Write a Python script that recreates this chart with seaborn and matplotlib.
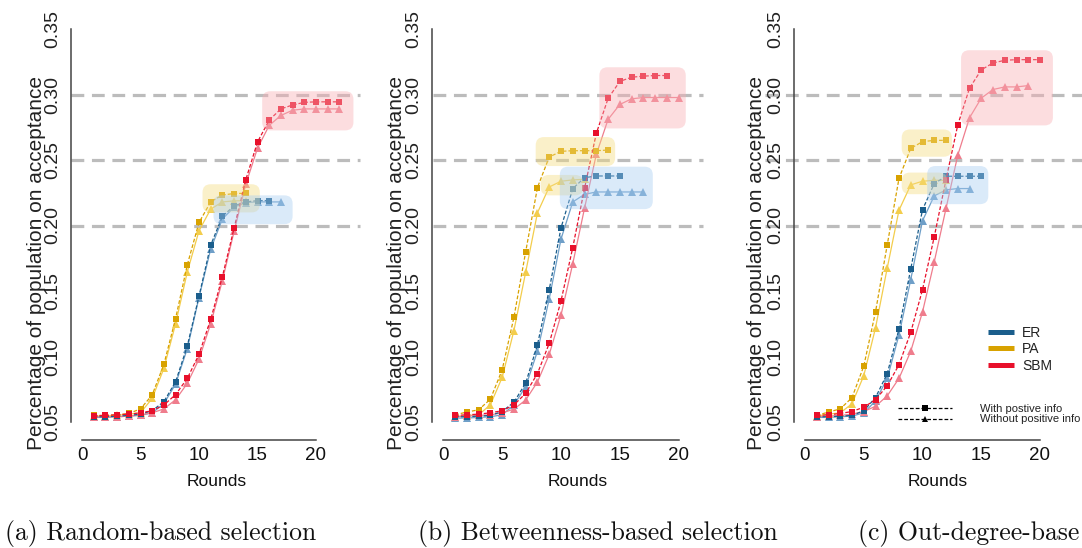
import numpy as np
import pandas as pd
import seaborn as sns
import matplotlib
matplotlib.use("Agg")
import matplotlib.pyplot as plt
from matplotlib.patches import FancyBboxPatch
from matplotlib.lines import Line2D
from matplotlib import font_manager
from matplotlib.font_manager import FontProperties

# ---------------- data ----------------
panel_titles = ["(a) Random-based selection",
                "(b) Betweenness-based selection",
                "(c) Out-degree-base"]
networks = ["ER", "PA", "SBM"]
info_labels = ["With postive info", "Without positive info"]
ylabel_text = "Percentage of population on acceptance"
xlabel_text = "Rounds"
yticks = [0.05, 0.10, 0.15, 0.20, 0.25, 0.30, 0.35]
xticks = [0, 5, 10, 15, 20]
ref_levels = [0.20, 0.25, 0.30]

# panel (a) random-based
er_with_a = [0.0540, 0.0540, 0.0545, 0.0550, 0.0560, 0.0586, 0.0656, 0.0807, 0.1080, 0.1460,
             0.1850, 0.2070, 0.2150, 0.2180, 0.2190, 0.2190]
er_without_a = [0.0535, 0.0535, 0.0540, 0.0545, 0.0550, 0.0570, 0.0640, 0.0790, 0.1060, 0.1450,
                0.1820, 0.2050, 0.2140, 0.2175, 0.2180, 0.2180, 0.2180]
pa_with_a = [0.0550, 0.0550, 0.0555, 0.0565, 0.0600, 0.0707, 0.0940, 0.1290, 0.1700, 0.2023,
             0.2180, 0.2233, 0.2244, 0.2246]
pa_without_a = [0.0545, 0.0545, 0.0550, 0.0560, 0.0570, 0.0680, 0.0910, 0.1250, 0.1645, 0.1960,
                0.2125, 0.2180, 0.2188, 0.2190]
sbm_with_a = [0.0548, 0.0550, 0.0555, 0.0560, 0.0570, 0.0586, 0.0630, 0.0709, 0.0833, 0.1016,
              0.1283, 0.1610, 0.1980, 0.2350, 0.2637, 0.2805, 0.2890, 0.2920, 0.2940, 0.2944,
              0.2944, 0.2944]
sbm_without_a = [0.0540, 0.0540, 0.0540, 0.0545, 0.0555, 0.0570, 0.0600, 0.0670, 0.0795, 0.0980,
                 0.1250, 0.1580, 0.1955, 0.2315, 0.2590, 0.2764, 0.2840, 0.2880, 0.2890, 0.2890,
                 0.2890, 0.2890]

# panel (b) betweenness-based
er_with_b = [0.0540, 0.0540, 0.0545, 0.0550, 0.0580, 0.0651, 0.0797, 0.1090, 0.1510, 0.1982,
             0.2282, 0.2365, 0.2378, 0.2378, 0.2378]
er_without_b = [0.0530, 0.0530, 0.0535, 0.0540, 0.0555, 0.0630, 0.0770, 0.1040, 0.1440, 0.1896,
                0.2180, 0.2238, 0.2256, 0.2256, 0.2256, 0.2256, 0.2256]
pa_with_b = [0.0555, 0.0576, 0.0593, 0.0674, 0.0898, 0.1299, 0.1800, 0.2290, 0.2523, 0.2566,
             0.2571, 0.2571, 0.2571, 0.2576]
pa_without_b = [0.0540, 0.0550, 0.0555, 0.0631, 0.0840, 0.1198, 0.1644, 0.2097, 0.2294, 0.2338,
                0.2348, 0.2353]
sbm_with_b = [0.0550, 0.0555, 0.0560, 0.0570, 0.0586, 0.0630, 0.0719, 0.0870, 0.1100, 0.1424,
              0.1832, 0.2284, 0.2703, 0.2970, 0.3100, 0.3132, 0.3140, 0.3145, 0.3145]
sbm_without_b = [0.0540, 0.0545, 0.0550, 0.0555, 0.0570, 0.0598, 0.0668, 0.0806, 0.1016, 0.1316,
                 0.1709, 0.2132, 0.2543, 0.2810, 0.2924, 0.2967, 0.2977, 0.2977, 0.2977, 0.2977]

# panel (c) out-degree-based
er_with_c = [0.0540, 0.0540, 0.0545, 0.0550, 0.0586, 0.0686, 0.0870, 0.1210, 0.1669, 0.2120,
             0.2320, 0.2376, 0.2376, 0.2376, 0.2376]
er_without_c = [0.0535, 0.0535, 0.0540, 0.0545, 0.0570, 0.0660, 0.0833, 0.1165, 0.1587, 0.2036,
                0.2226, 0.2272, 0.2282, 0.2282]
pa_with_c = [0.0550, 0.0576, 0.0600, 0.0686, 0.0926, 0.1340, 0.1853, 0.2360, 0.2589, 0.2640,
             0.2650, 0.2650]
pa_without_c = [0.0545, 0.0560, 0.0570, 0.0639, 0.0853, 0.1218, 0.1676, 0.2117, 0.2310, 0.2338,
                0.2345, 0.2345]
sbm_with_c = [0.0550, 0.0555, 0.0565, 0.0580, 0.0613, 0.0670, 0.0777, 0.0937, 0.1185, 0.1510,
              0.1914, 0.2350, 0.2767, 0.3048, 0.3188, 0.3241, 0.3261, 0.3266, 0.3266, 0.3266]
sbm_without_c = [0.0540, 0.0545, 0.0550, 0.0560, 0.0580, 0.0620, 0.0700, 0.0833, 0.1040, 0.1340,
                 0.1723, 0.2130, 0.2536, 0.2822, 0.2972, 0.3038, 0.3058, 0.3058, 0.3068]

# highlight boxes: (network, x0, x1, y0, y1)
boxes_a = [("SBM", 15.4, 23.2, 0.2726, 0.3025),
           ("PA", 10.3, 15.2, 0.2100, 0.2315),
           ("ER", 11.24, 18.0, 0.2010, 0.2230)]
boxes_b = [("SBM", 13.26, 20.6, 0.2741, 0.3208),
           ("PA", 7.85, 14.6, 0.2454, 0.2675),
           ("PA", 8.27, 11.9, 0.2230, 0.2386),
           ("ER", 9.9, 17.8, 0.2125, 0.2449)]
boxes_c = [("SBM", 13.28, 21.1, 0.2764, 0.3338),
           ("PA", 8.23, 12.5, 0.2525, 0.2733),
           ("PA", 8.23, 12.1, 0.2239, 0.2404),
           ("ER", 10.4, 15.6, 0.2163, 0.2454)]

# ---------------- styles ----------------
col_with = {"ER": "#1b5e8c", "PA": "#d8a200", "SBM": "#e8102b"}
col_without = {"ER": "#6f9fc8", "PA": "#f3cd4c", "SBM": "#ef7d8d"}
col_box = {"ER": "#a8cdf2", "PA": "#f5dc80", "SBM": "#f8b0b5"}

sns.set_style("white")
plt.rcParams["font.family"] = ["Liberation Sans", "DejaVu Sans"]


def pick_font(name, fallback):
    try:
        font_manager.findfont(FontProperties(family=name), fallback_to_default=False)
        return name
    except Exception:
        return fallback


NARROW = pick_font("Liberation Sans Narrow", "Liberation Sans")
SERIF = pick_font("cmr10", "DejaVu Serif")

W, H = 1082, 548
fig = plt.figure(figsize=(W / 100, H / 100), dpi=100)

# pixel layout (from top-left of image)
Y_TOP_PX, Y_BOT_PX = 20, 440
def yval(py):
    return 0.35 - (py - 29) * 0.05 / 65.5

panels_px = [
    dict(left=71, right=363, x0=82.0, ppu=11.70, ylab=36, xlab=217, ref=(71, 360), cap=5),
    dict(left=432, right=703, x0=443.3, ppu=11.77, ylab=397, xlab=578, ref=(433, 703), cap=418),
    dict(left=794, right=1082, x0=805.0, ppu=11.75, ylab=757, xlab=938, ref=(765, 1082), cap=858),
]

data_sets = [
    (er_with_a, er_without_a, pa_with_a, pa_without_a, sbm_with_a, sbm_without_a, boxes_a),
    (er_with_b, er_without_b, pa_with_b, pa_without_b, sbm_with_b, sbm_without_b, boxes_b),
    (er_with_c, er_without_c, pa_with_c, pa_without_c, sbm_with_c, sbm_without_c, boxes_c),
]

axes = []
for i, (p, ds) in enumerate(zip(panels_px, data_sets)):
    ax = fig.add_axes([p["left"] / W, (H - Y_BOT_PX) / H,
                       (p["right"] - p["left"]) / W, (Y_BOT_PX - Y_TOP_PX) / H])
    ax.set_facecolor("none")
    xl = ((p["left"] - p["x0"]) / p["ppu"], (p["right"] - p["x0"]) / p["ppu"])
    ax.set_xlim(*xl)
    ax.set_ylim(yval(Y_BOT_PX), yval(Y_TOP_PX))

    # reference dashed lines
    rx0 = (p["ref"][0] - p["x0"]) / p["ppu"]
    rx1 = (p["ref"][1] - p["x0"]) / p["ppu"]
    for lv in ref_levels:
        ax.plot([rx0, rx1], [lv, lv], color="#bcbcbc", lw=2.3,
                ls=(0, (4, 2.4)), zorder=0.5, clip_on=False, solid_capstyle="butt")

    series = {"ER": (ds[0], ds[1]), "PA": (ds[2], ds[3]), "SBM": (ds[4], ds[5])}
    for net in networks:
        w, wo = series[net]
        sns.lineplot(x=np.arange(1, len(wo) + 1), y=wo, ax=ax, color=col_without[net],
                     marker="^", markersize=5.2, markeredgewidth=0, linewidth=0.9,
                     linestyle="-", zorder=2, clip_on=False)
        sns.lineplot(x=np.arange(1, len(w) + 1), y=w, ax=ax, color=col_with[net],
                     marker="s", markersize=4.8, markeredgewidth=0, linewidth=0.9,
                     linestyle=(0, (3, 1.6)), zorder=3, clip_on=False)

    # highlight boxes
    xu_per_px = 1.0 / p["ppu"]
    yu_per_px = 0.05 / 65.5
    for net, bx0, bx1, by0, by1 in ds[6]:
        patch = FancyBboxPatch((bx0, by0), bx1 - bx0, by1 - by0,
                               boxstyle="round,pad=0,rounding_size=0.7",
                               mutation_aspect=yu_per_px / xu_per_px,
                               facecolor=col_box[net], edgecolor="none", alpha=0.42,
                               zorder=4, clip_on=False)
        ax.add_patch(patch)

    # axes styling (R-like detached axes)
    for s in ["top", "right"]:
        ax.spines[s].set_visible(False)
    ax.spines["left"].set_bounds(0.05, 0.35)
    ax.spines["bottom"].set_bounds(0, 20)
    for s in ["left", "bottom"]:
        ax.spines[s].set_color("#444444")
        ax.spines[s].set_linewidth(1.1)
    ax.set_yticks(yticks)
    ax.set_yticklabels([f"{v:.2f}" for v in yticks])
    ax.set_xticks(xticks)
    ax.set_xticklabels([str(v) for v in xticks])
    ax.tick_params(axis="y", length=3.5, width=1.0, color="#444444", pad=3.5,
                   labelsize=14, labelcolor="#222222")
    ax.tick_params(axis="x", length=3.8, width=1.0, color="#444444", pad=1.5,
                   labelsize=13.5, labelcolor="#111111")
    for lab in ax.get_yticklabels():
        lab.set_rotation(90)
        lab.set_va("center")
    for lab in ax.get_xticklabels():
        lab.set_family(NARROW)
    ax.grid(False)

    ax.set_ylabel(ylabel_text, fontsize=15, color="#222222")
    ax.yaxis.label.set(va="center", ha="center", rotation_mode="anchor")
    ax.yaxis.set_label_coords((p["ylab"] - p["left"]) / (p["right"] - p["left"]),
                              (Y_BOT_PX - 263) / (Y_BOT_PX - Y_TOP_PX))
    ax.set_xlabel(xlabel_text, fontsize=12.5, family=NARROW, color="#111111")
    ax.xaxis.label.set(va="center", ha="center")
    ax.xaxis.set_label_coords((p["xlab"] - p["left"]) / (p["right"] - p["left"]),
                              (Y_BOT_PX - 481) / (Y_BOT_PX - Y_TOP_PX))

    fig.text(p["cap"] / W, (H - 540) / H, panel_titles[i], family=SERIF,
             fontsize=18.5, ha="left", va="baseline", color="#111111")
    axes.append(ax)

# legends in panel (c)
ax = axes[2]
h1 = [Line2D([], [], color=col_with[n], lw=3.6, solid_capstyle="butt") for n in networks]
leg1 = ax.legend(h1, networks, loc="center left",
                 bbox_to_anchor=(988 / W, (H - 349.3) / H), bbox_transform=fig.transFigure,
                 frameon=False, borderpad=0, borderaxespad=0, handlelength=1.85,
                 handletextpad=0.6, labelspacing=0.2,
                 prop=FontProperties(family=NARROW, size=10))
for t in leg1.get_texts():
    t.set_color("#222222")
ax.add_artist(leg1)

h2 = [Line2D([], [], color="black", lw=0.9, ls=(0, (3, 1.6)), marker="s", markersize=4.6,
             markeredgewidth=0),
      Line2D([], [], color="black", lw=0.9, ls=(0, (3, 1.6)), marker="^", markersize=5,
             markeredgewidth=0)]
leg2 = ax.legend(h2, info_labels, loc="center left",
                 bbox_to_anchor=(897.7 / W, (H - 414.2) / H), bbox_transform=fig.transFigure,
                 frameon=False, borderpad=0, borderaxespad=0, handlelength=4.9,
                 handletextpad=2.5, labelspacing=0.05,
                 prop=FontProperties(family=NARROW, size=8))
for t in leg2.get_texts():
    t.set_color("#222222")

fig.savefig("out.png", dpi=100)
